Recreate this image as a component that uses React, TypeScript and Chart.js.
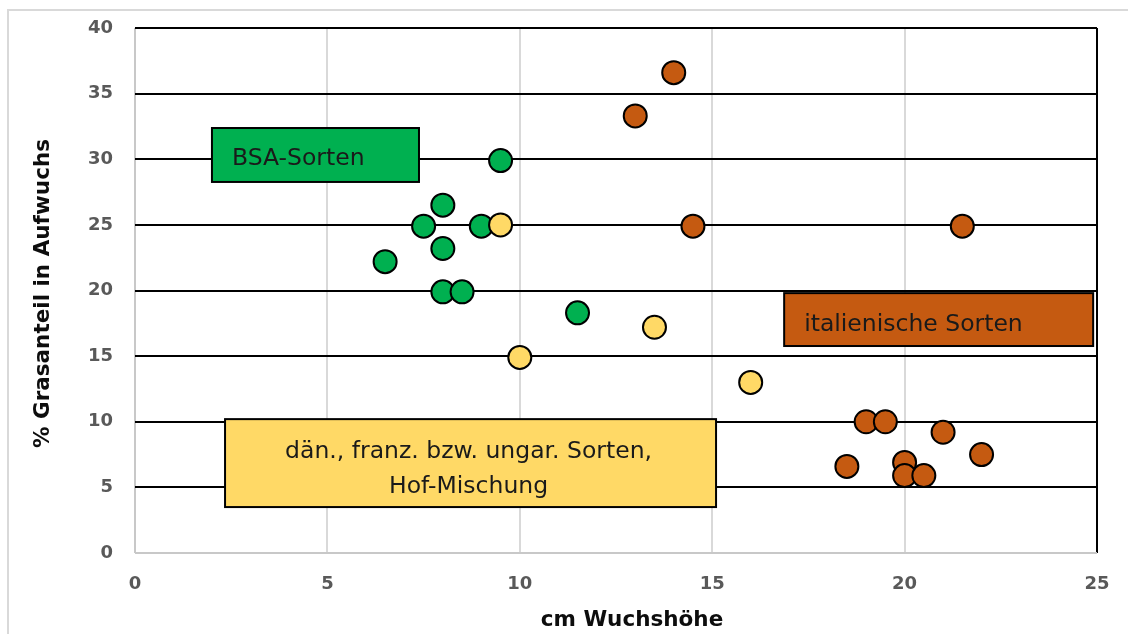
import React, { useEffect, useRef } from "react";
import { Chart, registerables } from "chart.js";

Chart.register(...registerables);

// ---- data ----
const xTickValues = [0, 5, 10, 15, 20, 25];
const yTickValues = [0, 5, 10, 15, 20, 25, 30, 35, 40];

const bsaX = [9.5, 8, 7.5, 9, 8, 6.5, 8, 8.5, 11.5];
const bsaY = [29.9, 26.5, 24.9, 24.9, 23.2, 22.2, 19.9, 19.9, 18.3];

const otherX = [9.5, 10, 13.5, 16];
const otherY = [25.0, 14.9, 17.2, 13.0];

const italX = [14, 13, 14.5, 21.5, 19, 19.5, 21, 22, 18.5, 20, 20, 20.5];
const italY = [36.6, 33.3, 24.9, 24.9, 10.0, 10.0, 9.2, 7.5, 6.6, 6.9, 5.9, 5.9];

const seriesNames = ["BSA-Sorten", "dän., franz. bzw. ungar. Sorten, Hof-Mischung", "italienische Sorten"];
const bsaLabel = ["BSA-Sorten"];
const italLabel = ["italienische Sorten"];
const otherLabel = ["dän., franz. bzw. ungar. Sorten,", "Hof-Mischung"];

const xTitle = "cm Wuchshöhe";
const yTitle = "% Grasanteil in Aufwuchs";

// ---- styles ----
const GREEN = "#00B050";
const YELLOW = "#FFD966";
const ORANGE = "#C55A11";
const FONT = "'DejaVu Sans', sans-serif";

const labelBoxes = [
  { lines: bsaLabel, x0: 2.0, x1: 7.38, y0: 32.38, y1: 28.27, fill: GREEN, align: "left", offs: [10] },
  { lines: italLabel, x0: 16.87, x1: 24.9, y0: 19.8, y1: 15.77, fill: ORANGE, align: "left", offs: [11.5] },
  { lines: otherLabel, x0: 2.34, x1: 15.1, y0: 10.2, y1: 3.5, fill: YELLOW, align: "center", offs: [-5, 30] },
];

const toPts = (xs: number[], ys: number[]) => xs.map((x, i) => ({ x, y: ys[i] }));

const framePlugin = {
  id: "frame",
  beforeDraw(chart: any) {
    const ctx = chart.ctx;
    ctx.save();
    ctx.fillStyle = "#ffffff";
    ctx.fillRect(0, 0, chart.width, chart.height);
    ctx.strokeStyle = "#d9d9d9";
    ctx.lineWidth = 2;
    ctx.strokeRect(8, 10, chart.width + 50, chart.height + 50);
    ctx.restore();
  },
};

const boxesPlugin = {
  id: "boxes",
  afterDatasetsDraw(chart: any) {
    const ctx = chart.ctx;
    const xs = chart.scales.x;
    const ys = chart.scales.y;
    ctx.save();
    labelBoxes.forEach((b) => {
      const l = xs.getPixelForValue(b.x0);
      const r = xs.getPixelForValue(b.x1);
      const t = ys.getPixelForValue(b.y0);
      const bt = ys.getPixelForValue(b.y1);
      ctx.fillStyle = b.fill;
      ctx.fillRect(l, t, r - l, bt - t);
      ctx.strokeStyle = "#000";
      ctx.lineWidth = 2;
      ctx.strokeRect(l, t, r - l, bt - t);
      ctx.fillStyle = "#1a1a1a";
      ctx.font = `23.5px ${FONT}`;
      ctx.textBaseline = "alphabetic";
      const cy = (t + bt) / 2;
      b.lines.forEach((line, i) => {
        if (b.align === "left") {
          ctx.textAlign = "left";
          ctx.fillText(line, l + 20, cy + b.offs[i]);
        } else {
          ctx.textAlign = "center";
          ctx.fillText(line, (l + r) / 2 - 2, cy + b.offs[i]);
        }
      });
    });
    ctx.restore();
  },
};

const titlesPlugin = {
  id: "titles",
  afterDraw(chart: any) {
    const ctx = chart.ctx;
    const ca = chart.chartArea;
    ctx.save();
    ctx.fillStyle = "#0d0d0d";
    ctx.font = `bold 21.5px ${FONT}`;
    ctx.textBaseline = "alphabetic";
    ctx.textAlign = "center";
    ctx.fillText(xTitle, (ca.left + ca.right) / 2 + 16, 626);
    ctx.translate(49, (ca.top + ca.bottom) / 2 + 3);
    ctx.rotate(-Math.PI / 2);
    ctx.fillText(yTitle, 0, 0);
    ctx.restore();
  },
};

export default function App() {
  const ref = useRef<HTMLCanvasElement | null>(null);

  useEffect(() => {
    if (!ref.current) return;
    const pointCommon = {
      pointRadius: 11.5,
      pointHoverRadius: 11.5,
      pointBorderWidth: 2,
      pointBorderColor: "#000",
      showLine: false,
    };
    const chart = new Chart(ref.current, {
      type: "scatter",
      data: {
        datasets: [
          { label: seriesNames[1], data: toPts(otherX, otherY), backgroundColor: YELLOW, order: 0, ...pointCommon },
          { label: seriesNames[0], data: toPts(bsaX, bsaY), backgroundColor: GREEN, order: 1, ...pointCommon },
          { label: seriesNames[2], data: toPts(italX, italY), backgroundColor: ORANGE, order: 2, ...pointCommon },
        ],
      },
      options: {
        responsive: false,
        animation: false,
        events: [],
        layout: { autoPadding: false, padding: { top: 28, right: 31, left: 0, bottom: 0 } },
        plugins: { legend: { display: false }, tooltip: { enabled: false } },
        scales: {
          x: {
            type: "linear",
            min: 0,
            max: 25,
            afterBuildTicks: (s: any) => {
              s.ticks = xTickValues.map((v) => ({ value: v }));
            },
            afterFit: (s: any) => {
              s.height = 81;
            },
            ticks: {
              stepSize: 5,
              padding: 0,
              color: "#595959",
              font: { family: FONT, size: 18, weight: "bold" },
            },
            grid: {
              drawTicks: true,
              tickLength: 21,
              tickColor: "rgba(0,0,0,0)",
              lineWidth: 2,
              color: (c: any) =>
                c.tick && c.tick.value === 25 ? "#000000" : c.tick && c.tick.value === 0 ? "#c8c8c8" : "#d9d9d9",
            },
            border: { display: false },
          },
          y: {
            type: "linear",
            min: 0,
            max: 40,
            afterBuildTicks: (s: any) => {
              s.ticks = yTickValues.map((v) => ({ value: v }));
            },
            afterFit: (s: any) => {
              s.width = 135;
            },
            ticks: {
              stepSize: 5,
              padding: 0,
              color: "#595959",
              font: { family: FONT, size: 18, weight: "bold" },
            },
            grid: {
              drawTicks: true,
              tickLength: 22,
              tickColor: "rgba(0,0,0,0)",
              lineWidth: 2,
              color: (c: any) => (c.tick && c.tick.value === 0 ? "#c8c8c8" : "#000000"),
            },
            border: { display: false },
          },
        },
      },
      plugins: [framePlugin, boxesPlugin, titlesPlugin],
    } as any);
    return () => chart.destroy();
  }, []);

  return (
    <div style={{ position: "absolute", left: 0, top: 0, width: 1128, height: 634, background: "#fff" }}>
      <canvas ref={ref} width={1128} height={634} style={{ display: "block" }} />
    </div>
  );
}
